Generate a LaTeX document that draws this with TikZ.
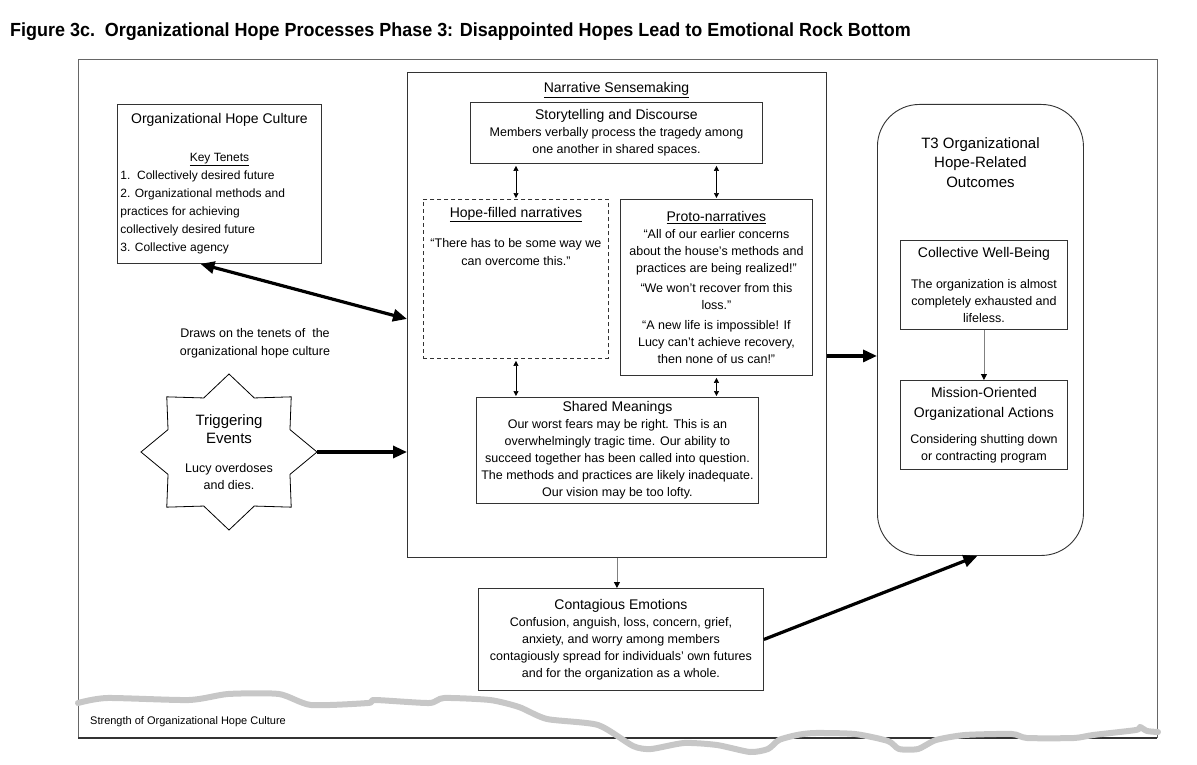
\documentclass[tikz,border=0pt]{standalone}
\usepackage{fontspec}
\setmainfont{Liberation Sans}
\usepackage{graphicx}
\usetikzlibrary{positioning,arrows.meta}

\newcommand{\headsize}{\fontsize{14}{17}\selectfont}
\newcommand{\bigheadsize}{\fontsize{15}{19.5}\selectfont}
\newcommand{\bodysize}{\fontsize{12.5}{17}\selectfont}

\tikzset{
    box/.style={draw=black!80, line width=0.9pt, fill=white, align=center, inner sep=0pt, font=\bodysize},
    txt/.style={align=center, inner sep=0pt, font=\bodysize},
    fat/.style={line width=3.2pt, -{Triangle[length=14pt,width=12pt]}},
    fatboth/.style={line width=3.2pt, {Triangle[length=14pt,width=12pt]}-{Triangle[length=14pt,width=12pt]}},
    slim/.style={draw=black!50, line width=0.8pt, -{Triangle[length=6pt,width=6pt,black]}},
    twoway/.style={line width=0.6pt, {Triangle[length=5pt,width=5pt]}-{Triangle[length=5pt,width=5pt]}, shorten <=2pt, shorten >=1pt}
}

\begin{document}
\begin{tikzpicture}[x=1pt,y=-1pt]
    \useasboundingbox (0,0) rectangle (1197,765);
    \node[anchor=base west, inner sep=0pt, font=\fontsize{19}{22}\selectfont\bfseries] (title) at (10,37)
        {\scalebox{0.945}[1]{Figure 3c.\ \ Organizational Hope Processes Phase 3: Disappointed Hopes Lead to Emotional Rock Bottom}};
    \draw[black!60, line width=1pt] (78,738) -- (78,60) -- (1157,60) -- (1157,738);
    \draw[black!80, line width=1.6pt] (78,738) -- (1157,738);

    \node[box, align=left, inner xsep=3pt, font=\fontsize{12}{18}\selectfont, minimum width=204, minimum height=159, anchor=north west] (culture) at (117,104)
        {\makebox[198pt]{\headsize Organizational Hope Culture}\\[20pt]
         \makebox[198pt]{\underline{Key Tenets}}\\
         1.\ \ Collectively desired future\\
         2. Organizational methods and\\
         practices for achieving\\
         collectively desired future\\
         3. Collective agency};

    \node[box, minimum width=419, minimum height=485, anchor=north west] (narr) at (407,72) {};
    \node[txt, font=\headsize, anchor=base] (narrT) at (616.5,93) {\underline{Narrative Sensemaking}};
    \node[box, minimum width=292, minimum height=61, anchor=north west] (story) at (470,102)
        {\headsize Storytelling and Discourse\\
         Members verbally process the tragedy among\\
         one another in shared spaces.};
    \node[box, dash pattern=on 4pt off 3pt, minimum width=185, minimum height=159, anchor=north west] (hope) at (423,199) {};
    \node[txt, anchor=north] (hopeT) at ([yshift=-8pt]hope.north)
        {\headsize\underline{Hope-filled narratives}\\[13pt]
         “There has to be some way we\\[1pt]
         can overcome this.”};
    \node[box, minimum width=192, minimum height=176, anchor=north west] (proto) at (620,199)
        {\headsize\underline{Proto-narratives}\\
         “All of our earlier concerns\\
         about the house’s methods and\\
         practices are being realized!”\\[3pt]
         “We won’t recover from this\\
         loss.”\\[3pt]
         “A new life is impossible! If\\
         Lucy can’t achieve recovery,\\
         then none of us can!”};
    \node[box, minimum width=282, minimum height=106, anchor=north west] (shared) at (476,397)
        {\headsize Shared Meanings\\
         Our worst fears may be right. This is an\\
         overwhelmingly tragic time. Our ability to\\
         succeed together has been called into question.\\
         The methods and practices are likely inadequate.\\
         Our vision may be too lofty.};

    \coordinate (trigC) at (229,452);
    \foreach \i [evaluate=\i as \rf using {1-0.25*mod(\i,2)}] in {0,...,15}
        \coordinate (st\i) at ([shift={({88*\rf*cos(22.5*\i)},{78*\rf*sin(22.5*\i)})}]trigC);
    \draw[line width=0.8pt, fill=white] (st0) \foreach \i in {1,...,15} { -- (st\i) } -- cycle;
    \node[txt] (trig) at (trigC)
        {\bigheadsize Triggering\\[1pt]
         \bigheadsize Events\\[12pt]
         Lucy overdoses\\
         and dies.};

    \node[box, rounded corners=42pt, minimum width=206, minimum height=451, anchor=north west] (outc) at (877,104) {};
    \node[txt, font=\bigheadsize, anchor=north] (outcT) at ([yshift=-33pt]outc.north)
        {T3 Organizational\\ Hope-Related\\ Outcomes};
    \node[box, minimum width=167, minimum height=89, anchor=north west] (coll) at (900,240)
        {\headsize Collective Well-Being\\[14pt]
         The organization is almost\\
         completely exhausted and\\
         lifeless.};
    \node[box, minimum width=167, minimum height=89, anchor=north west] (miss) at (900,380)
        {\headsize Mission-Oriented\\[3pt]
         \headsize Organizational Actions\\[9pt]
         Considering shutting down\\
         or contracting program};

    \node[box, minimum width=285, minimum height=102, anchor=north west] (cont) at (478,588)
        {\headsize Contagious Emotions\\
         Confusion, anguish, loss, concern, grief,\\
         anxiety, and worry among members\\
         contagiously spread for individuals’ own futures\\
         and for the organization as a whole.};

    \node[txt, anchor=north, font=\fontsize{12.5}{18}\selectfont] (drawsL) at (255,328)
        {Draws on the tenets of\ \ the\\ organizational hope culture};

    \draw[fatboth] ([xshift=-19pt]culture.south) -- ([yshift=-4pt]narr.west);
    \draw[fat] (st0) -- (st0 -| narr.west);
    \coordinate (toOut) at ([yshift=-41pt]narr.east);
    \draw[fat] (toOut) -- (toOut -| outc.west);
    \draw[fat] (cont.east) -- ([xshift=-3pt]outc.south);
    \draw[slim] (narr.south) -- (narr.south |- cont.north);
    \draw[slim] (coll.south) -- (miss.north);
    \draw[twoway] (hope.north |- story.south) -- (hope.north);
    \draw[twoway] (proto.north |- story.south) -- (proto.north);
    \draw[twoway] (hope.south) -- (hope.south |- shared.north);
    \draw[twoway] (proto.south) -- (proto.south |- shared.north);

    \draw[black!22, line width=6pt, line join=round, line cap=round] plot[smooth, tension=0.4] coordinates {
        (78,703) (107,698) (189,700) (228,694) (279,694) (311,705) (368,703) (375,700)
        (429,703) (444,698) (490,700) (519,707) (547,719) (598,725) (633,746) (651,749)
        (684,743) (717,745) (750,752) (768,749) (779,740) (797,735) (815,733) (855,734)
        (888,741) (899,749) (918,749) (936,740) (965,735) (1012,734) (1027,738) (1074,738)
        (1093,735) (1136,730) (1140,727) (1147,731) (1158,732)};
    \node[anchor=base west, inner sep=0pt, font=\fontsize{11}{13}\selectfont] (strength) at (90,724)
        {Strength of Organizational Hope Culture};
\end{tikzpicture}
\end{document}
